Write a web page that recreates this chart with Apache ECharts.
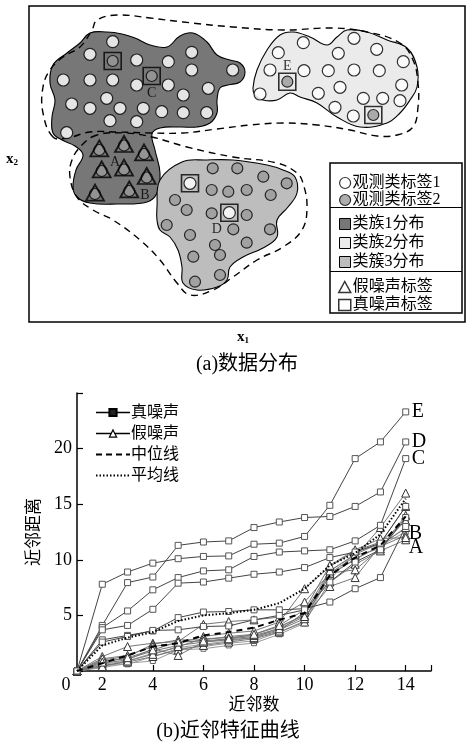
<!DOCTYPE html>
<html><head><meta charset="utf-8">
<script src="https://cdn.jsdelivr.net/npm/echarts@6/dist/echarts.min.js"></script>
<style>html,body{margin:0;padding:0;background:#fff}#c{width:467px;height:749px}</style>
</head><body><div id="c"></div>
<script>
const FONT = '"Liberation Serif","Times New Roman","Noto Sans CJK SC",serif';

// ---------- Panel (a): points in the x1-x2 plane ----------
const label1Points = [ // 观测类标签1 (white)
 [112.7,41.7],[90,54.3],[136.7,60],[168.3,61.7],[191.7,52.3],[191.7,70],[63.3,80],[90,80],[112.7,80],
 [136.7,85],[168.3,85],[208.3,88.3],[232.7,70],[106.7,98.3],[183.3,95],[71.7,104],[90,108.3],[120,108.3],
 [143.3,108.3],[161.7,111.7],[183.3,112.7],[206.7,112.7],[110,120.7],[136.7,121.7],[66.7,132.7],
 [303.3,42.7],[354,38.3],[278.3,52.7],[338.3,53.3],[376.7,49.3],[403.3,61.7],[270,70],[304,70.7],
 [328.3,70.7],[354,70],[379.3,70.7],[340,87.3],[318.3,93.3],[260,94],[401.7,85],[363.3,98.3],
 [382.7,98.3],[400,100.7],[335,107.3],[353.3,116],
 [190,183.3],[229.3,212.7]
];
const label2Points = [ // 观测类标签2 (grey)
 [212.7,168.3],[237.3,168.3],[263.3,176.7],[286.7,183.3],[211.7,190],[228.3,191.7],[246.7,190],[270.7,195],
 [175,200],[186.7,210],[211.7,213.3],[246.7,215],[166.7,225],[233.3,229.3],[270,229.3],[190,235],
 [215,245],[246.7,242.7],[193.3,256.7],[220,255],[195,281.7],[220,275],
 [112.7,61],[151.7,76],[287.3,81.7],[373.3,115],
 [99.3,150],[124,145.5],[144,154],[101.7,171],[124,169.5],[146.7,177.5],[95,194],[129.3,191]
];
const falseNoisePoints = [[99.3,148.3],[124,144],[144,152.3],[101.7,169.3],[124,167.7],[146.7,176],[95,192.7],[129.3,189.3]];
const trueNoisePoints = [[112.7,61],[151.7,76],[287.3,81.7],[373.3,115],[190,183.3],[229.3,212.7]];
const pointLetters = ['C','E','D','A','B'];
const letterPoints = [[151.7,93],[287.3,66],[216.7,229],[115,162.7],[145,195]];

const cluster1Outline = [[90,33],[107,32],[122,34],[135,38],[150,45],[167,47],[180,36],[193,33],[207,42],[217,55],
 [230,60],[240,63],[245,72],[240,82],[228,85],[220,88],[217,100],[217,113],[210,123],[197,127],[180,127],[160,128],
 [152,134],[155,150],[160,173],[157,193],[147,202],[117,204],[90,203],[77,197],[73,187],[76,170],[83,155],[75,146],
 [62,140],[53,133],[52,117],[55,100],[50,83],[53,65],[67,53],[80,43]];
const cluster2Outline = [[253,88],[257,70],[267,50],[280,35],[293,32],[310,37],[327,45],[337,37],[347,30],[367,32],
 [387,40],[407,48],[417,67],[417,87],[410,100],[400,113],[387,123],[360,127],[337,117],[317,103],[300,97],[290,93],
 [277,100],[263,100],[255,95]];
const cluster3Outline = [[157,207],[160,180],[182,162],[207,160],[233,160],[267,165],[283,170],[295,177],[297,193],
 [288,207],[277,220],[277,237],[263,248],[243,257],[230,267],[227,280],[217,287],[197,290],[183,283],[182,267],
 [178,250],[170,237],[160,230],[157,220]];
const dashOutline1 = [[53,137],[43,113],[43,87],[50,70],[63,57],[80,47],[92,30],[97,20],[117,15],[150,18],[183,22],
 [233,27],[283,30],[333,28],[367,32],[400,43],[413,60],[418,83],[418,107],[413,127],[397,135],[377,136],[350,130],
 [317,125],[283,123],[250,125],[217,129],[183,133],[152,133],[117,132],[90,132],[67,138]];
const dashOutline2 = [[97,135],[82,145],[72,160],[70,177],[77,197],[93,210],[113,220],[140,240],[160,260],[177,283],
 [190,295],[213,290],[233,277],[257,260],[283,247],[302,230],[307,207],[303,183],[297,173],[277,163],[233,157],
 [187,147],[152,137],[125,133]];

// ---------- Panel (b): neighbour distance curves ----------
const neighbors = [1,2,3,4,5,6,7,8,9,10,11,12,13,14];
const xTickValues = [2,4,6,8,10,12,14,15];
const xLabelValues = [1,2,4,6,8,10,12,14];
const trueE = [0,7.8,8.9,9.7,10.1,10.3,10.35,11.4,11.5,12.1,14.9,19.1,20.6,23.3];
const trueD = [0,4.1,7.95,8.45,11.3,11.6,11.7,12.9,13.4,13.8,13.9,14.8,16.1,20.6];
const trueC = [0,3.9,5.4,7.3,8.4,9.0,9.1,10.3,10.7,10.8,10.9,11.7,13.1,19.1];
const true4 = [0,3.7,4.1,5.55,7.9,8.0,8.35,8.7,8.9,9.3,10.2,10.7,11.5,14.8];
const true5 = [0,2.8,3.2,3.6,4.8,5.3,5.35,5.5,5.5,5.6,6.2,7.4,8.4,13.0];
const true6 = [0,2.6,3.1,3.65,3.7,4.0,4.05,4.6,5.0,5.5,8.0,9.8,10.9,13.8];
const trueLetters = ['E','D','C','','',''];
const falseA = [0,0.5,0.8,1.3,1.9,2.3,2.6,2.9,3.5,4.4,8.0,9.6,10.8,11.8];
const falseB = [0,0.9,1.1,1.8,2.3,2.6,2.9,3.1,3.7,4.7,8.6,10.1,11.2,12.2];
const false3 = [0,1.3,2.2,2.5,2.65,4.2,4.45,4.6,4.85,6.2,8.8,10.3,12.9,16.0];
const false4 = [0,1.0,1.3,2.4,2.8,2.8,3.1,3.3,4.0,5.0,8.8,9.1,11.0,14.0];
const false5 = [0,0.7,1.0,2.0,1.4,2.6,2.8,3.0,3.6,5.3,9.0,10.5,11.5,14.8];
const false6 = [0,1.1,1.4,2.2,2.5,3.1,3.4,3.6,4.4,7.4,9.4,10.8,11.6,13.5];
const false7 = [0,0.4,0.9,1.5,2.2,2.9,3.0,3.2,3.8,4.9,7.6,8.4,11.3,12.9];
const false8 = [0,0.8,1.2,1.9,2.6,2.7,2.9,3.3,4.1,5.5,9.5,10.9,11.9,12.0];
const falseLetters = ['A','B','','','','','',''];
const other1 = [0,0.3,0.7,0.9,1.9,2.0,2.3,2.5,3.3,4.3,8.7,10.0,11.3,12.5];
const other2 = [0,0.5,0.6,1.3,2.0,2.2,2.5,2.7,3.5,4.5,9.0,10.4,11.0,13.6];
const other3 = [0,0.6,0.9,1.6,2.1,2.4,2.7,3.0,3.9,5.1,8.2,10.7,11.4,12.8];
const medianLine = [0,0.7,1.4,2.2,2.5,3.2,3.5,3.9,4.6,5.2,8.6,10.2,11.3,13.9];
const meanLine = [0,2.3,3.0,3.5,4.5,5.0,5.2,5.5,6.1,7.4,9.5,10.6,12.3,15.5];

const pairs = ys => neighbors.map((x,i)=>[x, ys[i]]);

function blob(name, pts, fill, dash, z) {
  return {
    type:'custom', name, xAxisIndex:0, yAxisIndex:0, z, silent:true, clip:false,
    itemStyle:{color: fill},
    data: pts,
    renderItem: (params, api) => {
      if (params.dataIndex !== 0) return null;
      return {type:'polygon', shape:{points: pts.map(p => api.coord(p)), smooth:0.4},
        style:{fill: fill, stroke:'#000', lineWidth: dash ? 1.4 : 1.1, lineDash: dash || null}};
    }
  };
}

const series = [
  blob('类族1分布', cluster1Outline, '#777777', null, 1),
  blob('类族2分布', cluster2Outline, '#ebebeb', null, 1),
  blob('类簇3分布', cluster3Outline, '#bdbdbd', null, 1),
  blob('dash1', dashOutline1, 'none', [7,5], 2),
  blob('dash2', dashOutline2, 'none', [7,5], 2),
  {type:'scatter', name:'观测类标签1', xAxisIndex:0, yAxisIndex:0, z:3, data: label1Points, symbol:'circle', symbolSize:12,
   itemStyle:{color:'#fff', borderColor:'#000', borderWidth:1.2}},
  {type:'scatter', name:'观测类标签2', xAxisIndex:0, yAxisIndex:0, z:3, data: label2Points, symbol:'circle', symbolSize:11,
   itemStyle:{color:'#9a9a9a', borderColor:'#000', borderWidth:1.2}},
  {type:'scatter', name:'假噪声标签', xAxisIndex:0, yAxisIndex:0, z:4, data: falseNoisePoints, symbol:'triangle', symbolSize:[18,16],
   itemStyle:{color:'rgba(0,0,0,0)', borderColor:'#000', borderWidth:1.8}},
  {type:'scatter', name:'真噪声标签', xAxisIndex:0, yAxisIndex:0, z:4, data: trueNoisePoints, symbol:'rect', symbolSize:17,
   itemStyle:{color:'rgba(0,0,0,0)', borderColor:'#000', borderWidth:1.6}},
  {type:'scatter', name:'letters', xAxisIndex:0, yAxisIndex:0, z:5, data: letterPoints, symbol:'circle', symbolSize:2,
   itemStyle:{color:'rgba(0,0,0,0)'},
   label:{show:true, position:'inside', formatter: p => pointLetters[p.dataIndex], fontFamily: FONT, fontSize:14, color:'#000'}}
];

function bline(name, ys, style) {
  return Object.assign({type:'line', name, xAxisIndex:1, yAxisIndex:1, data: pairs(ys), z:3}, style);
}
[other1, other2, other3].forEach(ys => series.push(bline('其他', ys, {
  symbol:'rect', symbolSize:5, lineStyle:{color:'#9a9a9a', width:1}, itemStyle:{color:'#fff', borderColor:'#666', borderWidth:1}})));
[falseA, falseB, false3, false4, false5, false6, false7, false8].forEach((ys,i) => series.push(bline('假噪声', ys, {
  symbol:'triangle', symbolSize:8, lineStyle:{color:'#777', width:1}, itemStyle:{color:'#fff', borderColor:'#333', borderWidth:1},
  endLabel:{show: !!falseLetters[i], formatter: () => falseLetters[i], fontFamily: FONT, fontSize:20, color:'#000',
            distance: 3, offset: i===0 ? [0,8] : [0,-2]}})));
[trueE, trueD, trueC, true4, true5, true6].forEach((ys,i) => series.push(bline('真噪声', ys, {
  symbol:'rect', symbolSize:6, lineStyle:{color:'#444', width:1}, itemStyle:{color:'#fff', borderColor:'#555', borderWidth:1},
  endLabel:{show: !!trueLetters[i], formatter: () => trueLetters[i], fontFamily: FONT, fontSize:20, color:'#000', distance:6}})));
series.push(bline('中位线', medianLine, {symbol:'none', z:5, lineStyle:{color:'#000', width:2, type:[6,5]}}));
series.push(bline('平均线', meanLine, {symbol:'none', z:5, lineStyle:{color:'#000', width:2, type:[1.5,2]}}));

const noMarker = {color:'rgba(0,0,0,0)', borderColor:'rgba(0,0,0,0)', borderWidth:0};
const chart = echarts.init(document.getElementById('c'), null, {renderer:'canvas'});
chart.setOption({
  animation:false,
  backgroundColor:'#fff',
  textStyle:{fontFamily: FONT},
  grid:[
    {left:29, top:6, width:436, height:316, show:true, borderColor:'#000', borderWidth:1.5, backgroundColor:'#fff'},
    {left:77, top:393, width:354, height:278}
  ],
  xAxis:[
    {gridIndex:0, type:'value', min:29, max:465, show:false},
    {gridIndex:1, type:'value', min:1, max:15,
     axisLine:{lineStyle:{color:'#000', width:1.5}},
     axisTick:{inside:true, length:6, customValues: xTickValues, lineStyle:{color:'#000', width:1.2}},
     axisLabel:{customValues: xLabelValues, margin:5, color:'#000', fontSize:18, fontFamily: FONT,
       formatter: v => v === 1 ? '{z|0}' : String(v), rich:{z:{fontSize:18, fontFamily: FONT, padding:[0,22,0,0]}}},
     splitLine:{show:false},
     name:'近邻数', nameLocation:'middle', nameGap:26, nameTextStyle:{fontSize:17, color:'#000', fontFamily: FONT}}
  ],
  yAxis:[
    {gridIndex:0, type:'value', min:6, max:322, inverse:true, show:false},
    {gridIndex:1, type:'value', min:0, max:25, interval:5,
     axisLine:{show:true, lineStyle:{color:'#000', width:1.5}},
     axisTick:{show:true, inside:true, length:6, lineStyle:{color:'#000', width:1.2}},
     axisLabel:{margin:5, color:'#000', fontSize:18, fontFamily: FONT, formatter: v => (v===0||v===25) ? '' : String(v)},
     splitLine:{show:false},
     name:'近邻距离', nameLocation:'middle', nameRotate:90, nameGap:32, nameTextStyle:{fontSize:17, color:'#000', fontFamily: FONT}}
  ],
  legend:[
    {left:334, top:170, orient:'vertical', itemGap:1, itemWidth:11, itemHeight:11, icon:'circle',
     textStyle:{fontSize:16, lineHeight:16, color:'#000', padding:[0,0,0,-3]},
     data:[{name:'观测类标签1', itemStyle:{color:'#fff', borderColor:'#000', borderWidth:1.2}},
           {name:'观测类标签2', itemStyle:{color:'#9a9a9a', borderColor:'#000', borderWidth:1.2}}]},
    {left:334, top:211, orient:'vertical', itemGap:3, itemWidth:11, itemHeight:11, icon:'rect',
     textStyle:{fontSize:16, lineHeight:16, color:'#000', padding:[0,0,0,-3]},
     data:[{name:'类族1分布', itemStyle:{color:'#777', borderColor:'#000', borderWidth:1}},
           {name:'类族2分布', itemStyle:{color:'#ebebeb', borderColor:'#000', borderWidth:1}},
           {name:'类簇3分布', itemStyle:{color:'#bdbdbd', borderColor:'#000', borderWidth:1}}]},
    {left:333, top:274, orient:'vertical', itemGap:2, itemWidth:12, itemHeight:11,
     textStyle:{fontSize:16, lineHeight:16, color:'#000', padding:[0,0,0,-3]},
     data:[{name:'假噪声标签', icon:'triangle', itemStyle:{color:'#fff', borderColor:'#000', borderWidth:1.5}},
           {name:'真噪声标签', icon:'rect', itemStyle:{color:'#fff', borderColor:'#000', borderWidth:1.5}}]},
    {left:90, top:399, orient:'vertical', itemGap:4, itemWidth:34, itemHeight:9,
     textStyle:{fontSize:16, lineHeight:17, color:'#000', padding:[0,0,0,-4]},
     data:[{name:'真噪声', itemStyle:{color:'#222', borderColor:'#000'}, lineStyle:{color:'#000', width:1.5}},
           {name:'假噪声', itemStyle:{color:'#fff', borderColor:'#000', borderWidth:1.2}, lineStyle:{color:'#000', width:1.5}},
           {name:'中位线', itemStyle: noMarker, lineStyle:{color:'#000', width:2, type:[6,4]}},
           {name:'平均线', itemStyle: noMarker, lineStyle:{color:'#000', width:2, type:[1.5,2]}}]}
  ],
  graphic:[
    {type:'rect', z:10, shape:{x:330, y:163, width:132, height:150}, style:{fill:'rgba(0,0,0,0)', stroke:'#000', lineWidth:1.5}},
    {type:'line', z:10, shape:{x1:330, y1:207.5, x2:462, y2:207.5}, style:{stroke:'#000', lineWidth:1.2}},
    {type:'line', z:10, shape:{x1:330, y1:271.5, x2:462, y2:271.5}, style:{stroke:'#000', lineWidth:1.2}},
    {type:'text', z:10, style:{x:237, y:330, text:'{a|x}{b|1}', rich:{a:{fontFamily:FONT, fontSize:15, fontWeight:'bold'}, b:{fontFamily:FONT, fontSize:9, fontWeight:'bold', padding:[6,0,0,0]}}}},
    {type:'text', z:10, style:{x:6, y:152, text:'{a|x}{b|2}', rich:{a:{fontFamily:FONT, fontSize:15, fontWeight:'bold'}, b:{fontFamily:FONT, fontSize:9, fontWeight:'bold', padding:[6,0,0,0]}}}},
    {type:'text', z:10, style:{x:247, y:355, text:'(a)数据分布', align:'center', fontFamily:FONT, fontSize:20, fill:'#000'}},
    {type:'text', z:10, style:{x:228, y:722, text:'(b)近邻特征曲线', align:'center', fontFamily:FONT, fontSize:20, fill:'#000'}}
  ],
  series
});
</script></body></html>
